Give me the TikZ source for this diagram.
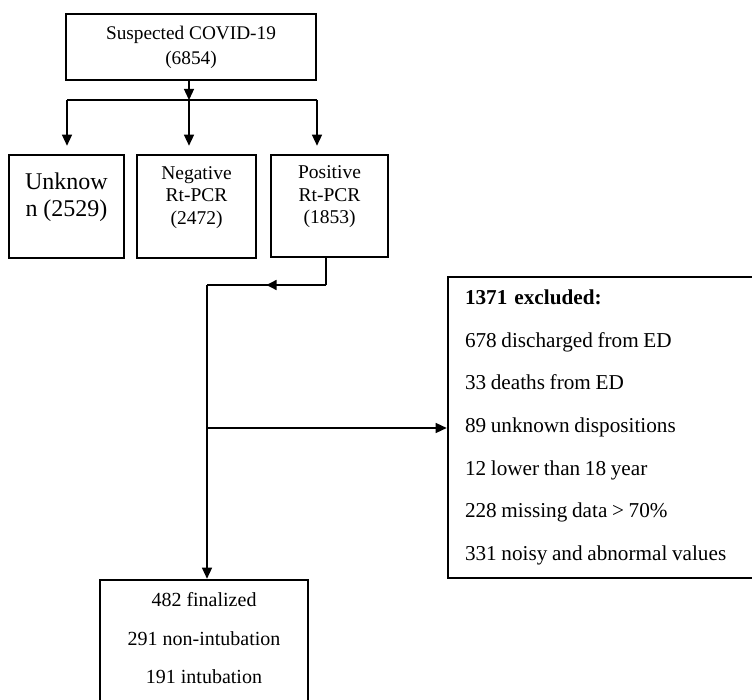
\documentclass[tikz,border=0pt]{standalone}
\usepackage{fontspec}
\setmainfont{Liberation Serif}
\usetikzlibrary{arrows.meta,decorations.markings,calc}
\begin{document}
\begin{tikzpicture}[x=1pt,y=-1pt,
  box/.style={draw, line width=2.6pt, inner sep=0pt},
  conn/.style={line width=1.3pt},
  tip/.style={-{Triangle[length=11pt,width=10pt]}},
  midtip/.style={postaction={decorate}, decoration={markings, mark=at position #1 with {\arrow{Triangle[length=10pt,width=10pt]}}}}
]
\useasboundingbox (0,0) rectangle (752,700);

\node[box, minimum width=250pt, minimum height=66pt, align=center, font=\fontsize{19.3}{25}\selectfont] (top) at (191,47) {Suspected COVID-19\\(6854)};

\node[box, minimum width=115pt, minimum height=103pt] (unk) at (66.5,206.5) {};
\node[align=center, font=\fontsize{24}{27}\selectfont] (unkt) at (66.5,197) {Unknow\\n (2529)};
\node[box, minimum width=119pt, minimum height=103pt] (neg) at (196.5,206.5) {};
\node[align=center, font=\fontsize{19.5}{22.5}\selectfont] (negt) at (196.5,197.5) {Negative\\Rt-PCR\\(2472)};
\node[box, minimum width=117pt, minimum height=102pt] (pos) at (329.5,206) {};
\node[align=center, font=\fontsize{19.5}{22.5}\selectfont] (post) at (329.5,197) {Positive\\Rt-PCR\\(1853)};

\node[box, minimum width=312pt, minimum height=301pt, text width=278pt, inner xsep=17pt, align=left, font=\fontsize{21.2}{42.7}\selectfont] (exc) at (604,427.5) {\textbf{1371 excluded:}\\\spaceskip=0.22em\relax 678 discharged from ED\\33 deaths from ED\\89 unknown dispositions\\12 lower than 18 year\\228 missing data > 70\%\\331 noisy and abnormal values};

\node[box, minimum width=208pt, minimum height=140pt] (fin) at (204,650) {};
\node[align=center, font=\fontsize{20}{38.5}\selectfont] (fint) at (204,638.5) {482 finalized\\291 non-intubation\\191 intubation};

\coordinate (split) at (189,100);
\coordinate (sL) at (67,100);
\coordinate (sR) at (317,100);
\draw[conn, tip] (top.south -| split) -- (split);
\draw[conn] (sL) -- (sR);
\draw[conn, tip, shorten >=8pt] (sL) -- (sL |- unk.north);
\draw[conn, tip, shorten >=8pt] (split) -- (split |- neg.north);
\draw[conn, tip, shorten >=8pt] (sR) -- (sR |- pos.north);

\coordinate (pb) at (326,285);
\coordinate (jn) at (207,285);
\coordinate (jx) at (207,428);
\draw[conn] ([xshift=-3.5pt]pos.south) -- (pb);
\draw[conn, midtip=0.5] (pb) -- (jn);
\draw[conn, tip] (jn) -- (fin.north -| jn);
\draw[conn, tip] (jx) -- (exc.west |- jx);
\end{tikzpicture}
\end{document}
